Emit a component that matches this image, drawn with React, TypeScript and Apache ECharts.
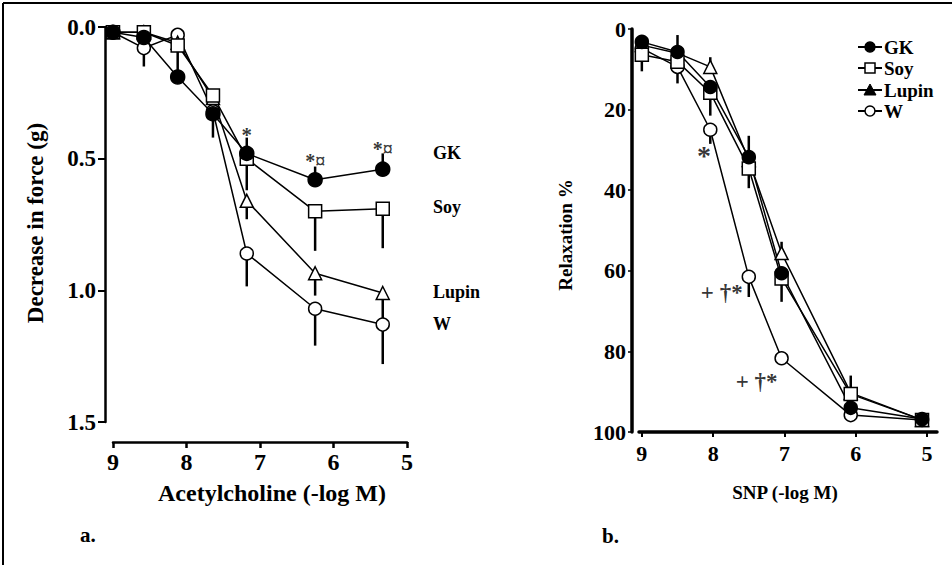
import React, { useEffect, useRef } from 'react';
import * as echarts from 'echarts';

const FONT = '"Liberation Serif", "Times New Roman", Times, serif';

const groups = ['GK', 'Soy', 'Lupin', 'W'];

// Panel a: Acetylcholine
const achX = [9, 8.58, 8.12, 7.64, 7.18, 6.25, 5.33];
const achGK = [0.02, 0.04, 0.19, 0.33, 0.48, 0.58, 0.54];
const achSoy = [0.02, 0.02, 0.07, 0.26, 0.5, 0.7, 0.69];
const achLupin = [0.02, 0.02, 0.06, 0.27, 0.66, 0.935, 1.01];
const achW = [0.02, 0.08, 0.03, 0.32, 0.86, 1.07, 1.13];
// error bar end points (one-sided)
const achGKErr = [null, null, null, 0.42, 0.42, 0.53, 0.48];
const achSoyErr = [null, null, 0.17, null, 0.62, 0.85, 0.84];
const achLupinErr = [null, null, null, null, 0.73, 1.02, 1.12];
const achWErr = [null, 0.15, null, null, 0.985, 1.21, 1.28];
const achTicksY = [0, 0.5, 1.0, 1.5];
const achNotes = [
  { x: 7.18, y: 0.41, text: '*', size: 21 },
  { x: 6.25, y: 0.51, text: '*¤', size: 20 },
  { x: 5.33, y: 0.465, text: '*¤', size: 20 },
];

// Panel b: SNP
const snpX = [9, 8.5, 8.04, 7.5, 7.04, 6.07, 5.07];
const snpGK = [3.2, 5.7, 14.4, 31.8, 60.6, 94, 96.8];
const snpSoy = [6.4, 8.1, 15.8, 34.6, 61.9, 90.6, 97];
const snpLupin = [4, 6, 9.4, 32.5, 55.6, 90.3, 97];
const snpW = [4.8, 9.4, 25, 61.5, 81.7, 95.8, 97];
const snpGKErr = [null, 1.5, null, 26.5, null, null, null];
const snpSoyErr = [10.5, null, 21.5, 39.5, 67.7, null, null];
const snpLupinErr = [null, null, 7, null, 52.8, 86, null];
const snpWErr = [null, 13.5, 28.5, 66.5, null, null, null];
const snpTicksX = [9, 8, 7, 6, 5];
const snpNotes = [
  { x: 8.13, y: 31.5, text: '*', size: 28 },
  { x: 7.88, y: 65.5, text: '+ †*', size: 23 },
  { x: 7.39, y: 87.5, text: '+ †*', size: 23 },
];

type Num = number | null;

function lineSeries(name: string, xs: number[], ys: number[], idx: number, symbol: string, filled: boolean, size: number) {
  return {
    type: 'line',
    name,
    xAxisIndex: idx,
    yAxisIndex: idx,
    data: xs.map((x, i) => [x, ys[i]]),
    symbol,
    symbolSize: size,
    showSymbol: true,
    showAllSymbol: true,
    lineStyle: { color: '#000', width: 1.5 },
    itemStyle: { color: filled ? '#000' : '#fff', borderColor: '#000', borderWidth: 1.5 },
    emphasis: { disabled: true },
    z: 3,
  };
}

function errSeries(xs: number[], ys: number[], ends: Num[], idx: number, width: number) {
  const data: number[][] = [];
  xs.forEach((x, i) => {
    const e = ends[i];
    if (e !== null && e !== undefined) data.push([x, ys[i], e]);
  });
  return {
    type: 'custom',
    xAxisIndex: idx,
    yAxisIndex: idx,
    data,
    z: 2,
    silent: true,
    renderItem: (_p: any, api: any) => {
      const p0 = api.coord([api.value(0), api.value(1)]);
      const p1 = api.coord([api.value(0), api.value(2)]);
      return {
        type: 'line',
        shape: { x1: p0[0], y1: p0[1], x2: p1[0], y2: p1[1] },
        style: { stroke: '#000', lineWidth: width },
      };
    },
  };
}

function noteSeries(notes: { x: number; y: number; text: string; size: number }[], idx: number) {
  return {
    type: 'scatter',
    xAxisIndex: idx,
    yAxisIndex: idx,
    symbolSize: 1,
    itemStyle: { color: 'transparent' },
    silent: true,
    z: 5,
    data: notes.map((n) => ({
      value: [n.x, n.y],
      label: {
        show: true,
        position: 'inside',
        formatter: n.text,
        color: '#000',
        fontFamily: FONT,
        fontWeight: 'bold',
        fontSize: n.size,
      },
    })),
  };
}

function txt(text: string, x: number, y: number, size: number, align = 'center', rotation = 0) {
  return {
    type: 'text',
    x,
    y,
    rotation,
    style: {
      text,
      fill: '#000',
      fontFamily: FONT,
      fontWeight: 'bold',
      fontSize: size,
      textAlign: align,
      textVerticalAlign: 'middle',
    },
  };
}

export default function App() {
  const ref = useRef<HTMLDivElement>(null);

  useEffect(() => {
    document.body.style.margin = '0';
    if (!ref.current) return;
    const chart = echarts.init(ref.current, null, { renderer: 'svg' });

    const axisFont = { color: '#000', fontFamily: FONT, fontWeight: 'bold' };

    // legend graphics for panel b
    const legendY = [47, 68, 90, 111];
    const legendEls: any[] = [];
    groups.forEach((g, i) => {
      const cy = legendY[i];
      const cx = 870;
      legendEls.push({ type: 'line', shape: { x1: 858, y1: cy, x2: 882, y2: cy }, style: { stroke: '#000', lineWidth: 2 } });
      if (g === 'GK') legendEls.push({ type: 'circle', shape: { cx, cy, r: 5 }, style: { fill: '#000', stroke: '#000', lineWidth: 1.5 } });
      if (g === 'Soy') legendEls.push({ type: 'rect', shape: { x: cx - 5, y: cy - 5, width: 10, height: 10 }, style: { fill: '#fff', stroke: '#000', lineWidth: 1.5 } });
      if (g === 'Lupin') legendEls.push({ type: 'polygon', shape: { points: [[cx, cy - 6], [cx + 6, cy + 5], [cx - 6, cy + 5]] }, style: { fill: '#000', stroke: '#000', lineWidth: 1 } });
      if (g === 'W') legendEls.push({ type: 'circle', shape: { cx, cy, r: 5 }, style: { fill: '#fff', stroke: '#000', lineWidth: 1.5 } });
      legendEls.push(txt(g, 884, cy, 19, 'left'));
    });

    const option: any = {
      animation: false,
      backgroundColor: '#fff',
      grid: [
        { left: 113, top: 27, width: 294, height: 395 },
        { left: 639, top: 29, width: 298, height: 403 },
      ],
      xAxis: [
        {
          type: 'value', gridIndex: 0, min: 5, max: 9, interval: 1, inverse: true, offset: 20,
          axisLine: { show: true, onZero: false, lineStyle: { color: '#000', width: 2.5 } },
          axisTick: { show: true, length: 6, lineStyle: { color: '#000', width: 2.5 } },
          axisLabel: { ...axisFont, fontSize: 24, margin: 8 },
          splitLine: { show: false },
        },
        {
          type: 'value', gridIndex: 1, min: 4.86, max: 9.04, inverse: true, offset: 0,
          axisLine: { show: true, onZero: false, lineStyle: { color: '#000', width: 3.5 } },
          axisTick: { show: true, length: 5, customValues: snpTicksX, lineStyle: { color: '#000', width: 2 } },
          axisLabel: { ...axisFont, fontSize: 22, margin: 10, customValues: snpTicksX },
          splitLine: { show: false },
        },
      ],
      yAxis: [
        {
          type: 'value', gridIndex: 0, min: achTicksY[0], max: achTicksY[achTicksY.length - 1], interval: 0.5, inverse: true, offset: 8,
          axisLine: { show: true, onZero: false, lineStyle: { color: '#000', width: 2.5 } },
          axisTick: { show: true, length: 7, lineStyle: { color: '#000', width: 2 } },
          axisLabel: { ...axisFont, fontSize: 23, margin: 9, formatter: (v: number) => v.toFixed(1) },
          splitLine: { show: false },
        },
        {
          type: 'value', gridIndex: 1, min: 0, max: 100, interval: 20, inverse: true, offset: 7,
          axisLine: { show: true, onZero: false, lineStyle: { color: '#000', width: 3.5 } },
          axisTick: { show: true, length: 4, lineStyle: { color: '#000', width: 1.5 } },
          axisLabel: { ...axisFont, fontSize: 22, margin: 6 },
          splitLine: { show: false },
        },
      ],
      series: [
        errSeries(achX, achW, achWErr, 0, 2.5),
        errSeries(achX, achLupin, achLupinErr, 0, 2.5),
        errSeries(achX, achSoy, achSoyErr, 0, 2.5),
        errSeries(achX, achGK, achGKErr, 0, 2.5),
        lineSeries('W', achX, achW, 0, 'circle', false, 13),
        lineSeries('Lupin', achX, achLupin, 0, 'triangle', false, 13),
        lineSeries('Soy', achX, achSoy, 0, 'rect', false, 13),
        lineSeries('GK', achX, achGK, 0, 'circle', true, 14),
        noteSeries(achNotes, 0),

        errSeries(snpX, snpW, snpWErr, 1, 2.5),
        errSeries(snpX, snpLupin, snpLupinErr, 1, 2.5),
        errSeries(snpX, snpSoy, snpSoyErr, 1, 2.5),
        errSeries(snpX, snpGK, snpGKErr, 1, 2.5),
        lineSeries('W', snpX, snpW, 1, 'circle', false, 13),
        lineSeries('Lupin', snpX, snpLupin, 1, 'triangle', false, 13),
        lineSeries('Soy', snpX, snpSoy, 1, 'rect', false, 13),
        lineSeries('GK', snpX, snpGK, 1, 'circle', true, 13),
        noteSeries(snpNotes, 1),
      ],
      graphic: [
        { type: 'line', shape: { x1: 3, y1: 3, x2: 952, y2: 3 }, style: { stroke: '#000', lineWidth: 2 } },
        { type: 'line', shape: { x1: 3, y1: 3, x2: 3, y2: 565 }, style: { stroke: '#000', lineWidth: 2 } },
        txt('Decrease in force (g)', 35, 223, 23, 'center', Math.PI / 2),
        txt('Acetylcholine (-log M)', 272, 493, 24),
        txt('GK', 433, 153, 18, 'left'),
        txt('Soy', 433, 207, 18, 'left'),
        txt('Lupin', 433, 292, 18, 'left'),
        txt('W', 433, 324, 18, 'left'),
        txt('a.', 80, 535, 21, 'left'),
        txt('Relaxation %', 565, 235, 19, 'center', Math.PI / 2),
        txt('SNP (-log M)', 785, 492, 19),
        txt('b.', 602, 536, 21, 'left'),
        ...legendEls,
      ],
    };

    chart.setOption(option);
    return () => chart.dispose();
  }, []);

  return <div ref={ref} style={{ width: 952, height: 565 }} />;
}
